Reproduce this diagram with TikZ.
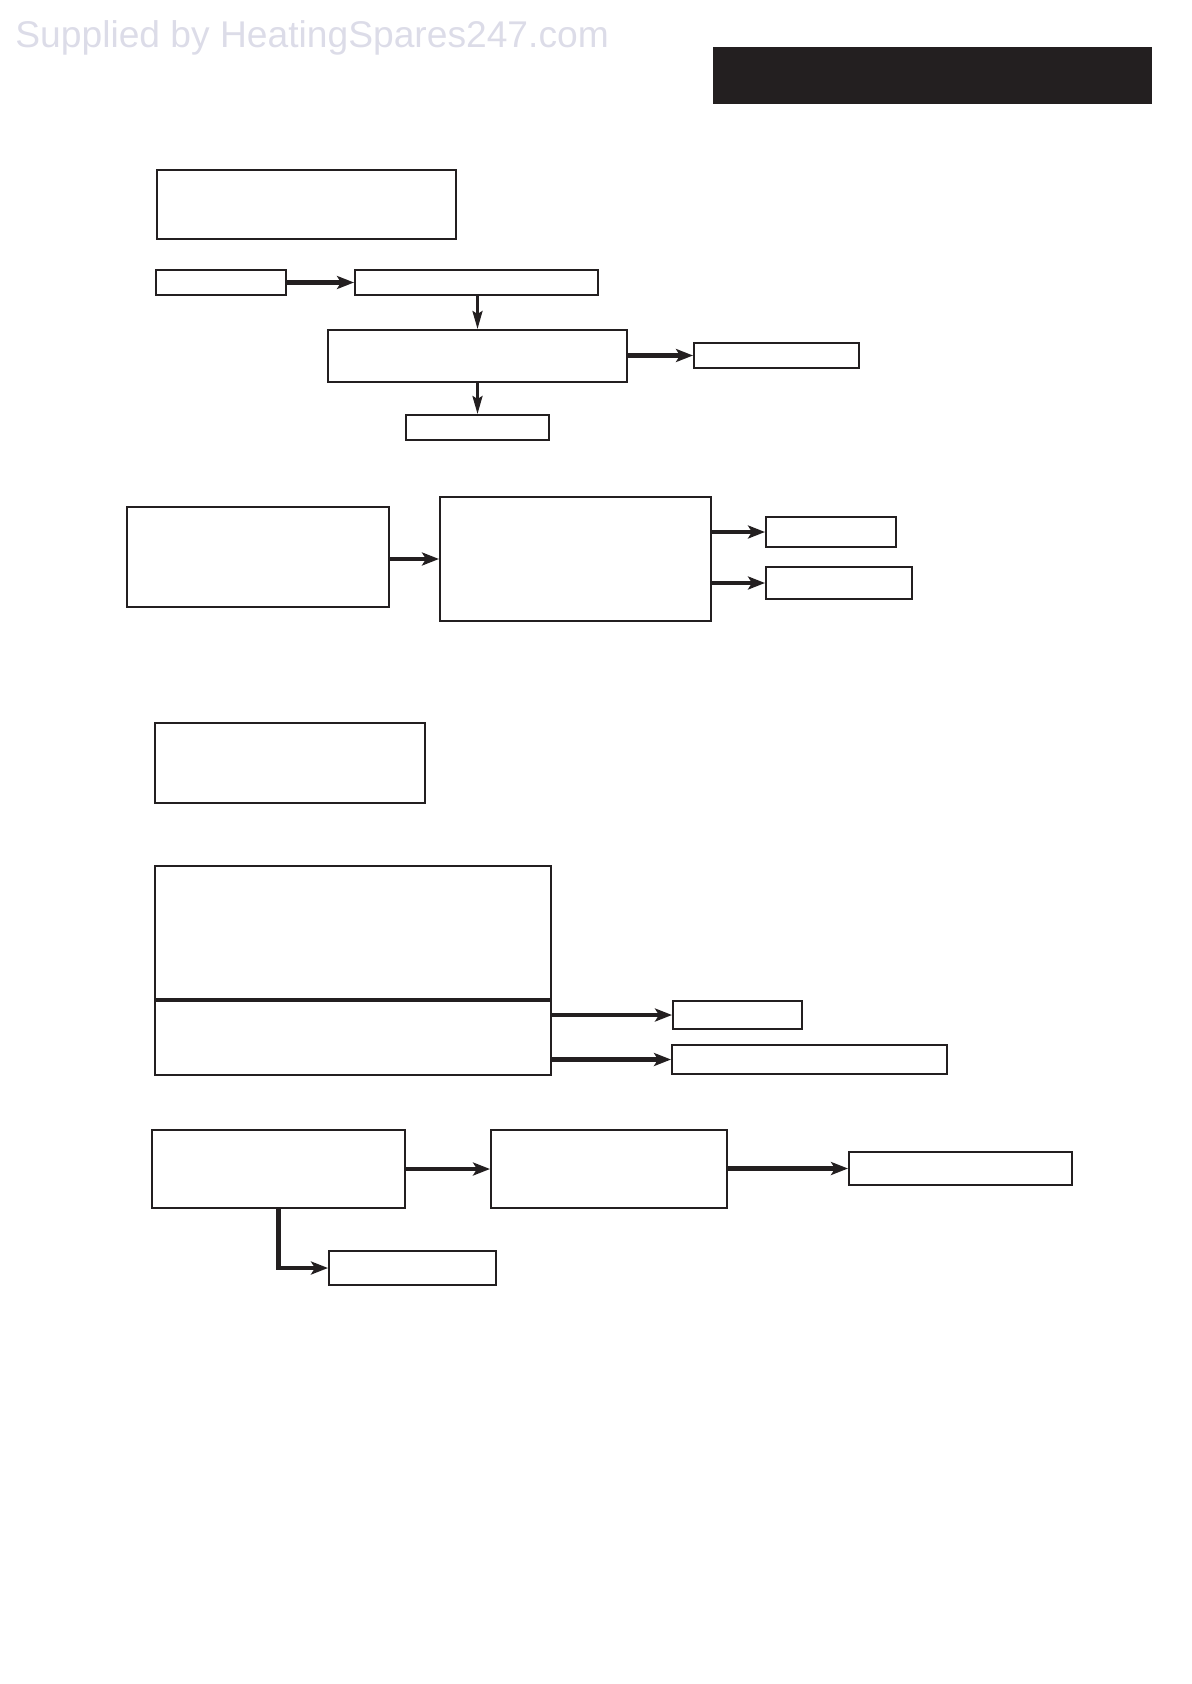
\documentclass[tikz,border=0pt]{standalone}
\usepackage{fontspec}
\setmainfont{Liberation Sans}
\usetikzlibrary{arrows.meta,calc}
\definecolor{ink}{HTML}{231F20}
\definecolor{wmark}{HTML}{DCDCE8}
\tikzset{
  box/.style={draw=ink, line width=1pt, inner sep=0pt, fill=white},
  harr/.style={draw=ink, line width=2.2pt, -{Stealth[length=8.5pt,width=6.5pt,inset=2pt]}},
  varr/.style={draw=ink, line width=1.4pt, -{Stealth[length=9pt,width=5pt,inset=1.5pt]}}
}
\newcommand{\bx}[5]{\node[box, minimum width=#4*0.5pt, minimum height=#5*0.5pt] (#1) at (#2,#3) {};}
\begin{document}
\begin{tikzpicture}[x=0.5pt,y=-0.5pt]
\useasboundingbox (0,0) rectangle (1191,1684);
% watermark
\node[anchor=base west, inner sep=0pt, text=wmark, font=\fontsize{18.6pt}{22pt}\selectfont] (wm) at (15,48) {Supplied by HeatingSpares247.com};
% black header bar
\fill[ink] (713,47) rectangle (1152,104);
% group 1
\bx{A}{306.5}{204.5}{299}{69}
\bx{B1}{221}{282.5}{130}{25}
\bx{B2}{476.5}{282.5}{243}{25}
\bx{C}{477.5}{356}{299}{52}
\bx{D}{776.5}{355.5}{165}{25}
\bx{E}{477.5}{427.5}{143}{25}
\draw[harr] (B1.east) -- (B2.west);
\draw[varr] (B2.south -| C.north) -- (C.north);
\draw[varr] (C.south) -- (E.north);
\draw[harr] (C.east |- D.west) -- (D.west);
% group 2
\bx{F}{258}{557}{262}{100}
\bx{G}{575.5}{559}{271}{124}
\bx{H}{831}{532}{130}{30}
\bx{I}{839}{583}{146}{32}
\draw[harr] (F.east |- G.west) -- (G.west);
\draw[harr] (G.east |- H.west) -- (H.west);
\draw[harr] (G.east |- I.west) -- (I.west);
% group 3
\bx{J}{290}{763}{270}{80}
\bx{K}{353}{970.5}{396}{209}
\coordinate (kdl) at (155,1000);
\coordinate (kdr) at (551,1000);
\draw[ink, line width=1.6pt] (kdl) -- (kdr);
\bx{L}{737.5}{1015}{129}{28}
\bx{M}{809.5}{1059.5}{275}{29}
\draw[harr] (K.east |- L.west) -- (L.west);
\draw[harr] (K.east |- M.west) -- (M.west);
% group 4
\bx{N}{278.5}{1169}{253}{78}
\bx{O}{609}{1169}{236}{78}
\bx{P}{960.5}{1168.5}{223}{33}
\bx{Q}{412.5}{1268}{167}{34}
\draw[harr] (N.east) -- (O.west);
\draw[harr] (O.east |- P.west) -- (P.west);
\draw[harr] (N.south) |- (Q.west);
\end{tikzpicture}
\end{document}
